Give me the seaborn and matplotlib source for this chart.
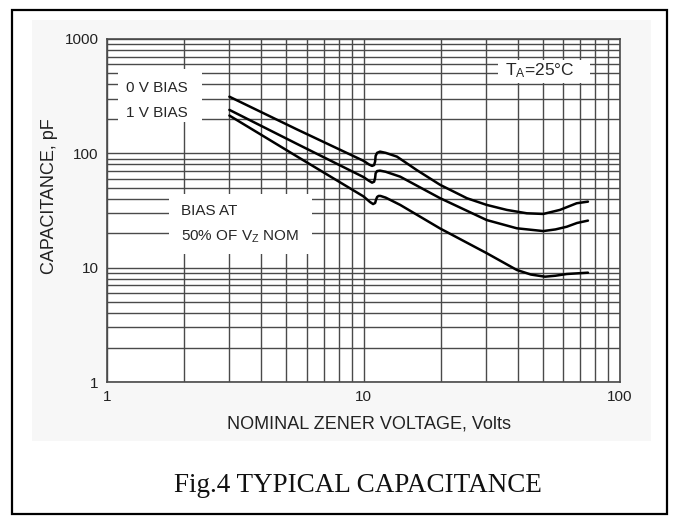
import matplotlib
matplotlib.use("Agg")
import matplotlib.pyplot as plt
from matplotlib.patches import Rectangle
from matplotlib.ticker import LogLocator, FixedLocator, NullFormatter
import seaborn as sns
import pandas as pd

# Curve data (volts, pF)
v_0bias = [3.0, 5.5, 10.0, 10.5, 10.8, 11.0, 11.1, 11.15, 11.3, 11.6, 12.2, 13.5, 16.1, 19.9,
           25.3, 30.2, 36.2, 43.3, 50.2, 58.3, 67.8, 75.0]
c_0bias = [313, 162, 86, 80, 77.6, 79, 85, 95, 101, 103.5, 101, 93.6, 71.6, 53,
           40.5, 35.4, 32, 29.9, 29.5, 32, 36.6, 37.8]

v_1bias = [3.0, 5.5, 10.0, 10.5, 10.8, 11.0, 11.1, 11.15, 11.3, 11.6, 12.2, 13.9, 19.9,
           30.2, 39.6, 50.2, 56.0, 62.0, 68.0, 75.0]
c_1bias = [240, 121, 62, 57.5, 55.4, 56.5, 61, 67, 70, 70.6, 69, 62.5, 40.5,
           26.1, 22.1, 20.9, 21.6, 22.8, 24.6, 25.8]

v_half = [3.0, 5.5, 10.0, 10.6, 10.9, 11.1, 11.2, 11.3, 11.45, 11.65, 12.2, 13.9, 19.9,
          30.2, 39.6, 45.0, 51.0, 56.0, 62.0, 75.0]
c_half = [214, 94, 42, 37.5, 36, 36.8, 39.5, 41.5, 42.4, 42.4, 41, 35.4, 22,
          13.4, 9.55, 8.7, 8.34, 8.5, 8.8, 9.04]

x_ticks = [1, 10, 100]
y_ticks = [1, 10, 100, 1000]

sns.set_style("white")
plt.rcParams["font.family"] = ["Liberation Sans", "DejaVu Sans"]
plt.rcParams["mathtext.fontset"] = "custom"
plt.rcParams["mathtext.rm"] = "Liberation Sans"
plt.rcParams["mathtext.it"] = "Liberation Sans"

W, H = 673, 517
fig = plt.figure(figsize=(W / 100, H / 100), dpi=100)
fig.patch.set_facecolor("white")

# outer frame and pale scanned-image background
fig.patches.append(Rectangle((32 / W, 1 - 441 / H), (651 - 32) / W, (441 - 20) / H,
                             transform=fig.transFigure, facecolor="#f7f7f7", edgecolor="none", zorder=-5))
fig.patches.append(Rectangle((12 / W, 1 - 514 / H), (667 - 12) / W, (514 - 10) / H,
                             transform=fig.transFigure, facecolor="none", edgecolor="black", lw=1.6, zorder=5))

ax = fig.add_axes([107 / W, 1 - 382 / H, (620 - 107) / W, (382 - 39) / H])
ax.set_zorder(2)
ax.set_facecolor("white")
ax.set_xscale("log")
ax.set_yscale("log")
ax.set_xlim(1, 100)
ax.set_ylim(1, 1000)

ax.xaxis.set_major_locator(FixedLocator(x_ticks))
ax.yaxis.set_major_locator(FixedLocator(y_ticks))
ax.set_xticklabels([str(t) for t in x_ticks])
ax.set_yticklabels([str(t) for t in y_ticks])
ax.xaxis.set_minor_locator(LogLocator(base=10, subs=range(2, 10)))
ax.yaxis.set_minor_locator(LogLocator(base=10, subs=range(2, 10)))
ax.xaxis.set_minor_formatter(NullFormatter())
ax.yaxis.set_minor_formatter(NullFormatter())
ax.tick_params(which="both", length=0, labelsize=11, colors="#222222", pad=6)

ax.grid(True, which="both", color="#4a4a4a", lw=1.0)
ax.set_axisbelow(True)
for s in ax.spines.values():
    s.set_color("#4a4a4a")
    s.set_linewidth(1.2)

curves = [(v_0bias, c_0bias), (v_1bias, c_1bias), (v_half, c_half)]
for v, c in curves:
    df = pd.DataFrame({"v": v, "c": c})
    sns.lineplot(data=df, x="v", y="c", ax=ax, color="black", lw=1.8,
                 sort=False, estimator=None, zorder=4)
ax.set_xlabel("")
ax.set_ylabel("")

# white label boxes that break the grid
def label_box(x0, y0, x1, y1):
    ax.add_patch(Rectangle(((x0 - 107) / 513, (382 - y1) / 343), (x1 - x0) / 513, (y1 - y0) / 343,
                           transform=ax.transAxes, facecolor="white", edgecolor="none", zorder=3))

label_box(118, 69, 202, 122)
label_box(169, 194, 312, 254)
label_box(498, 60, 590, 83)

tx = lambda px: (px - 107) / 513
ty = lambda py: (382 - py) / 343
ax.text(tx(126), ty(88), "0 V BIAS", transform=ax.transAxes, fontsize=11, va="center", ha="left", zorder=5)
ax.text(tx(126), ty(113), "1 V BIAS", transform=ax.transAxes, fontsize=11, va="center", ha="left", zorder=5)
ax.text(tx(181), ty(211), "BIAS AT", transform=ax.transAxes, fontsize=11, va="center", ha="left", zorder=5)
ax.text(tx(181), ty(237), r"50% OF V$_{\mathrm{Z}}$ NOM", transform=ax.transAxes, fontsize=11,
        va="center", ha="left", zorder=5)
ax.text(tx(505), ty(71), r"T$_{\mathrm{A}}$=25°C", transform=ax.transAxes, fontsize=12.5,
        va="center", ha="left", zorder=5)

fig.text(50 / W, 1 - 196 / H, "CAPACITANCE, pF", rotation=90, fontsize=13,
         ha="center", va="center", color="#222222")
fig.text(369 / W, 1 - 424 / H, "NOMINAL ZENER VOLTAGE, Volts", fontsize=13,
         ha="center", va="center", color="#222222")
fig.text(358 / W, 1 - 486 / H, "Fig.4 TYPICAL CAPACITANCE", fontsize=19.5,
         family=["Liberation Serif", "DejaVu Serif"], ha="center", va="center", color="#111111")

fig.savefig("out.png", dpi=100)
